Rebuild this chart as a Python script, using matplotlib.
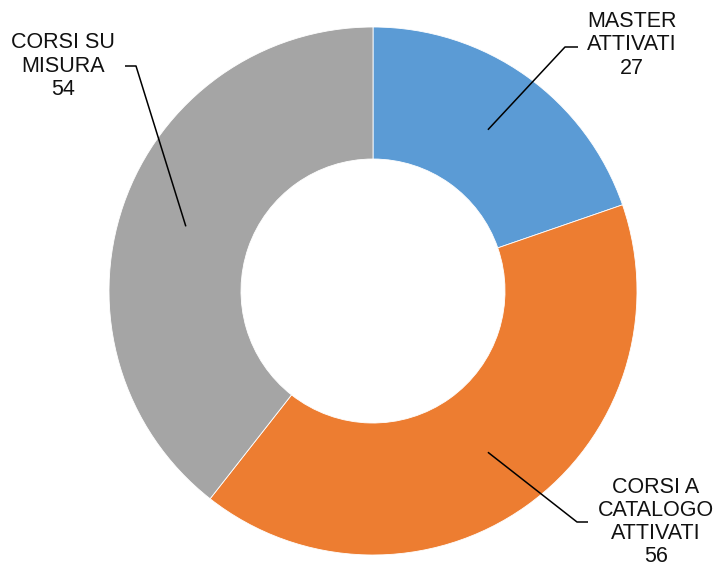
import numpy as np
import matplotlib
matplotlib.use("Agg")
import matplotlib.pyplot as plt

plt.rcParams['font.family'] = ['Liberation Sans', 'DejaVu Sans']

labels = ["MASTER\nATTIVATI", "CORSI A\nCATALOGO\nATTIVATI", "CORSI SU\nMISURA"]
values = [27, 56, 54]
colors = ["#5B9BD5", "#ED7D31", "#A5A5A5"]

W, H = 724, 570
cx, cy = 373, H - 291
r_out, ring = 264, 132

fig = plt.figure(figsize=(W / 100, H / 100), dpi=100)
ax = fig.add_axes([0, 0, 1, 1])
ax.pie(values, colors=colors, startangle=90, counterclock=False,
       center=(cx, cy), radius=r_out,
       wedgeprops=dict(width=ring, edgecolor="white", linewidth=0.6))
ax.set_xlim(0, W)
ax.set_ylim(0, H)
ax.set_aspect("equal")
ax.axis("off")

# label text centre, elbow of the leader line, end of the short horizontal
label_pos = [(632, 45), (656, 522), (63, 66)]
elbows = [(565, 47), (577, 522), (136, 66)]
tails = [(578, 47), (588, 522), (125, 66)]

total = sum(values)
start = 0.0
for lab, val, tpos, elb, tail in zip(labels, values, label_pos, elbows, tails):
    mid = start + val / 2
    start += val
    ang = np.deg2rad(90 - mid / total * 360)
    rm = r_out - ring / 2
    ax_, ay_ = cx + rm * np.cos(ang), cy + rm * np.sin(ang)
    ax.plot([ax_, elb[0], tail[0]], [ay_, H - elb[1], H - tail[1]],
            color="black", lw=1.1, solid_capstyle="butt")
    ax.text(tpos[0], H - tpos[1], f"{lab}\n{val}", ha="center", va="center",
            fontsize=15.5, linespacing=1.14, color="#111111")

fig.savefig("out.png", dpi=100)
